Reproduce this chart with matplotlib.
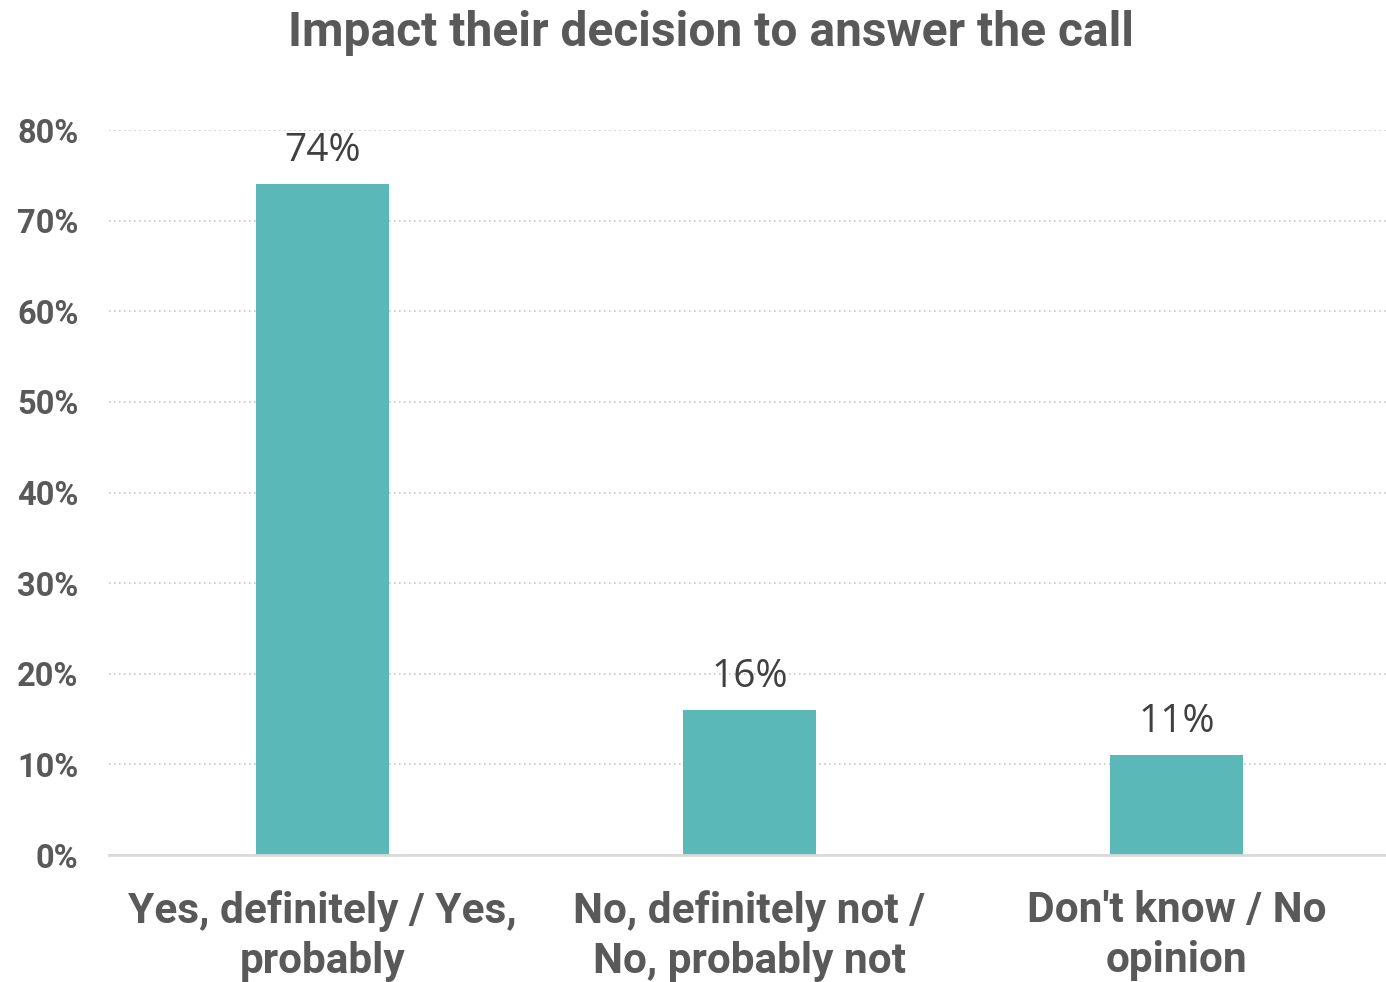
import matplotlib.pyplot as plt
import numpy as np

categories = ["Yes, definitely / Yes,\nprobably",
              "No, definitely not /\nNo, probably not",
              "Don't know / No\nopinion"]
values = [74, 16, 11]
yticks = [0, 10, 20, 30, 40, 50, 60, 70, 80]

bar_color = "#5bb8b9"
text_grey = "#595959"

fig = plt.figure(figsize=(13.86, 9.82), dpi=100)
ax = fig.add_axes([0.0786, 0.1293, 0.9242, 0.7383])

x = np.arange(len(categories))
bars = ax.bar(x, values, width=0.31, color=bar_color, zorder=3)

# value labels above each bar
for b, v in zip(bars, values):
    ax.text(b.get_x() + b.get_width() / 2, v + 1.6, f"{v}%",
            ha="center", va="bottom", fontsize=28, color="#404040",
            family="Open Sans")

ax.set_xlim(-0.5, 2.5)
ax.set_ylim(0, 80)
ax.set_yticks(yticks)
ax.set_yticklabels([f"{t}%" for t in yticks], fontsize=23.5, fontweight="bold",
                   color=text_grey, family="Roboto")
ax.set_xticks(x)
ax.set_xticklabels(categories, fontsize=30.5, fontweight="bold", color=text_grey,
                   family="Roboto", linespacing=1.3)
ax.tick_params(axis="both", length=0)
ax.tick_params(axis="y", pad=22)
ax.tick_params(axis="x", pad=25)

ax.yaxis.grid(True, linestyle=(0, (1, 2)), color="#c8c8c8", linewidth=1.2, zorder=0)
for s in ["top", "right", "left"]:
    ax.spines[s].set_visible(False)
ax.spines["bottom"].set_color("#d9d9d9")
ax.spines["bottom"].set_linewidth(2)
ax.spines["bottom"].set_zorder(4)

fig.suptitle("Impact their decision to answer the call", x=0.513, y=0.99,
             fontsize=34.5, fontweight="bold", color=text_grey, family="Roboto")

fig.savefig("out.png", dpi=100)
